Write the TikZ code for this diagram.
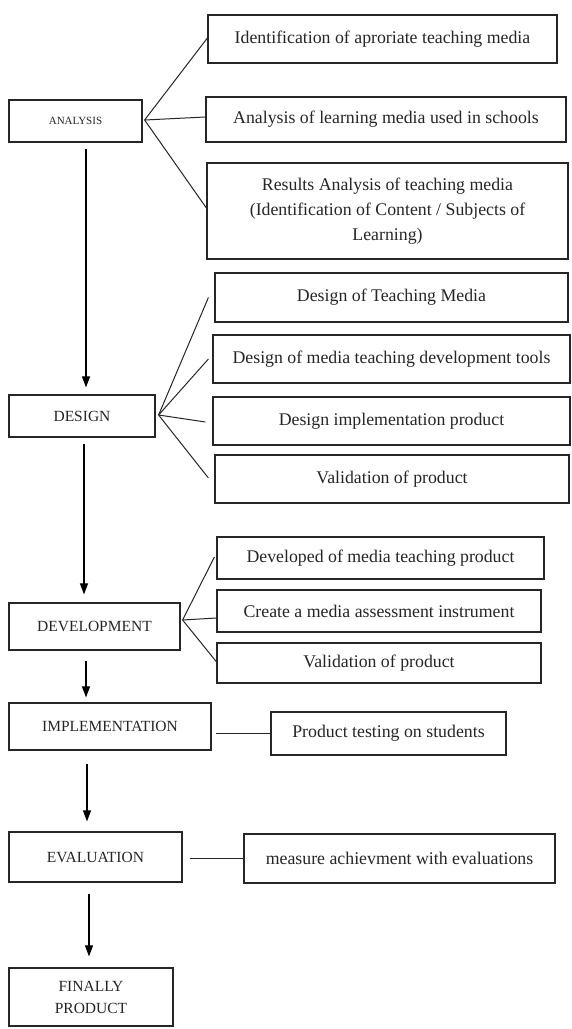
\documentclass[tikz,border=0pt]{standalone}
\usepackage{fontspec}
\setmainfont{Liberation Serif}
\usetikzlibrary{arrows.meta}
\begin{document}
\begin{tikzpicture}[x=1pt,y=-1pt,
  box/.style={draw=black!85,line width=1.2pt,inner sep=0pt,align=center,text=black!85},
  sbox/.style={box,font=\fontsize{17.8}{25}\selectfont},
  mbox/.style={box,font=\fontsize{15.5}{22}\selectfont},
  link/.style={draw=black!85,line width=1pt},
  arr/.style={draw=black,line width=1.1pt,-{Triangle[length=11pt,width=8pt]}}]
\useasboundingbox[fill=white] (0,0) rectangle (571,1029);
% left column
\node[mbox,minimum width=133,minimum height=42,font=\fontsize{11}{13}\selectfont] (ana) at (75.5,121) {ANALYSIS};
\node[mbox,minimum width=146,minimum height=42] (des) at (82,416) {DESIGN};
\node[mbox,minimum width=171,minimum height=47] (dev) at (94.5,626.5) {DEVELOPMENT};
\node[mbox,minimum width=202,minimum height=47] (imp) at (110,726.5) {IMPLEMENTATION};
\node[mbox,minimum width=173,minimum height=50] (eva) at (95.5,857) {EVALUATION};
\node[mbox,minimum width=164,minimum height=58] (fin) at (91,997) {FINALLY\\PRODUCT};
% right column
\node[sbox,minimum width=349,minimum height=48] (a1) at (382.5,39) {Identification of aproriate teaching media};
\node[sbox,minimum width=360,minimum height=45] (a2) at (386,119.5) {Analysis of learning media used in schools};
\node[sbox,minimum width=361,minimum height=96] (a3) at (387.5,211) {Results Analysis of teaching media\\(Identification of Content / Subjects of\\Learning)};
\node[sbox,minimum width=353,minimum height=49] (d1) at (391.5,297.5) {Design of Teaching Media};
\node[sbox,minimum width=357,minimum height=48] (d2) at (391.5,359) {Design of media teaching development tools};
\node[sbox,minimum width=357,minimum height=48] (d3) at (391.5,421) {Design implementation product};
\node[sbox,minimum width=354,minimum height=48] (d4) at (392,479) {Validation of product};
\node[sbox,minimum width=327,minimum height=42] (v1) at (380.5,558) {Developed of media teaching product};
\node[sbox,minimum width=324,minimum height=42] (v2) at (379,611) {Create a media assessment instrument};
\node[sbox,minimum width=324,minimum height=40] (v3) at (379,663) {Validation of product};
\node[sbox,minimum width=235,minimum height=43] (pt) at (388.5,733.5) {Product testing on students};
\node[sbox,minimum width=311,minimum height=49] (me) at (399.5,858.5) {measure achievment with evaluations};
% branch links
\coordinate (ao) at ([xshift=2pt,yshift=1pt]ana.east);
\draw[link] (ao) -- ([yshift=1pt]a1.west);
\draw[link] (ao) -- ([yshift=2.5pt]a2.west);
\draw[link] (ao) -- ([yshift=3pt]a3.west);
\coordinate (do) at ([xshift=3pt,yshift=1pt]des.east);
\draw[link] (do) -- ([xshift=-6pt]d1.west);
\draw[link] (do) -- ([xshift=-4pt]d2.west);
\draw[link] (do) -- ([xshift=-7pt,yshift=-1pt]d3.west);
\draw[link] (do) -- ([xshift=-6pt,yshift=1pt]d4.west);
\coordinate (vo) at ([xshift=2pt,yshift=6.5pt]dev.east);
\draw[link] (vo) -- ([xshift=-2pt,yshift=1pt]v1.west);
\draw[link] (vo) -- ([yshift=-7pt]v2.west);
\draw[link] (vo) -- ([xshift=1pt]v3.west);
\draw[link] ([xshift=4pt]imp.east |- pt.west) -- (pt.west);
\draw[link] ([xshift=7pt]eva.east |- me.west) -- (me.west);
% main arrows
\draw[arr,shorten <=6pt,shorten >=7pt] ([xshift=10.5pt]ana.south) -- ([xshift=10.5pt]ana.south |- des.north);
\draw[arr,shorten <=6pt,shorten >=8pt] ([xshift=2pt]des.south) -- ([xshift=2pt]des.south |- dev.north);
\draw[arr,shorten <=10pt,shorten >=5pt] ([xshift=-8.5pt]dev.south) -- ([xshift=-8.5pt]dev.south |- imp.north);
\draw[arr,shorten <=13pt,shorten >=10pt] ([xshift=-23pt]imp.south) -- ([xshift=-23pt]imp.south |- eva.north);
\draw[arr,shorten <=11pt,shorten >=11pt] ([xshift=-6.5pt]eva.south) -- ([xshift=-6.5pt]eva.south |- fin.north);
\end{tikzpicture}
\end{document}
